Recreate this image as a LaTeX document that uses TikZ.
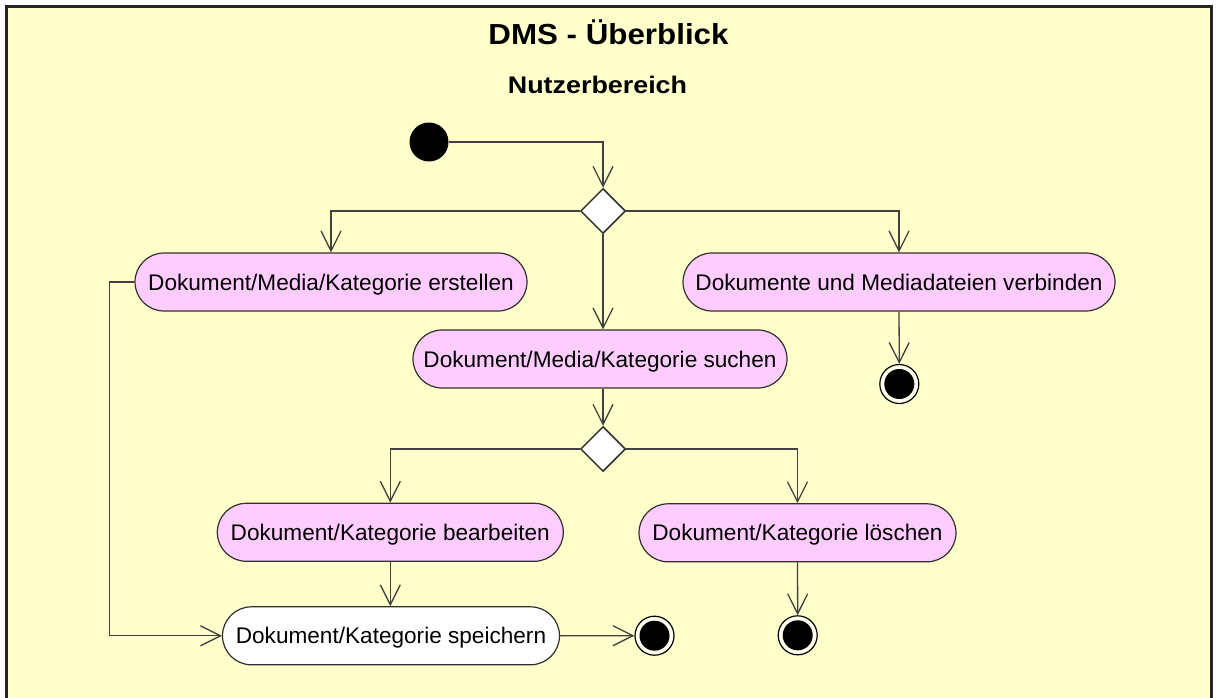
\documentclass[tikz,border=0pt]{standalone}
\usepackage{fontspec}
\setmainfont{Liberation Sans}
\newfontfamily\titlefont{Liberation Sans}[FakeStretch=1.08]
\newfontfamily\subtitlefont{Liberation Sans}[FakeStretch=1.12]
\usetikzlibrary{arrows.meta,shapes.geometric}
\definecolor{panel}{HTML}{FFFFCC}
\definecolor{actfill}{HTML}{FFCCFF}
\definecolor{wire}{HTML}{404040}
\definecolor{edge}{HTML}{303030}
\tikzset{
  activity/.style={rectangle, rounded corners=29pt, draw=edge, line width=1.2pt,
    fill=actfill, minimum height=58pt, inner xsep=0pt, inner ysep=0pt,
    text height=16pt, text depth=0pt,
    font=\fontsize{22.6}{27}\selectfont},
  decision/.style={diamond, draw=edge, line width=1.5pt, fill=white,
    minimum width=45pt, minimum height=45pt, inner sep=0pt},
  initial/.style={circle, fill=black, minimum size=39pt, inner sep=0pt},
  final/.style={circle, draw=black, line width=1.2pt, fill=white!60!panel,
    minimum size=39pt, inner sep=0pt,
    path picture={\fill[black] (path picture bounding box.center) circle (15pt);}},
  flow/.style={draw=wire, line width=1.3pt,
    -{Straight Barb[length=20pt,width=20pt,line width=1.3pt]}}
}
\begin{document}
\begin{tikzpicture}[x=1pt,y=-1pt]
  \useasboundingbox (0,0) rectangle (1218,698);
  \fill[white] (0,0) rectangle (1218,698);
  \clip (0,0) rectangle (1218,698);
  % diagram frame
  \draw[draw=black!85, line width=2.2pt, fill=panel] (6.5,6.5) rectangle (1211.5,740);

  % headings
  \node[anchor=base, inner sep=0pt] (title) at (608.5,45)
    {\titlefont\bfseries\fontsize{29}{34}\selectfont DMS - Überblick};
  \node[anchor=base, inner sep=0pt] (area) at (597.5,93.5)
    {\subtitlefont\bfseries\fontsize{24}{28}\selectfont Nutzerbereich};

  % states and decisions
  \node[initial] (start) at (429,142) {};
  \node[decision] (d1) at (603,211) {};
  \node[activity, minimum width=392pt] (create) at (331,282)
    {Dokument/Media/Kategorie erstellen};
  \node[activity, minimum width=432pt] (link) at (899,282)
    {Dokumente und Mediadateien verbinden};
  \node[final] (endlink) at (899.3,384) {};
  \node[activity, minimum width=374pt] (search) at (600,359)
    {Dokument/Media/Kategorie suchen};
  \node[decision] (d2) at (603,449) {};
  \node[activity, minimum width=346pt] (edit) at (390.3,532.3)
    {Dokument/Kategorie bearbeiten};
  \node[activity, minimum width=317pt] (delete) at (797.5,532.8)
    {Dokument/Kategorie löschen};
  \node[final] (enddelete) at (797.7,635.3) {};
  \node[activity, minimum width=337pt, fill=white] (save) at (391,635.8)
    {Dokument/Kategorie speichern};
  \node[final] (endsave) at (654.5,635.7) {};

  % control flow
  \draw[flow] (start.east) -| (d1.north);
  \draw[flow] (d1.west) -| (create.north);
  \draw[flow] (d1.east) -| (link.north);
  \draw[flow] (d1.south) -- (d1.south |- search.north);
  \draw[flow] (link.south) -- (endlink.north);
  \draw[flow] (d2.north |- search.south) -- (d2.north);
  \draw[flow] (d2.west) -| (edit.north);
  \draw[flow] (d2.east) -| (delete.north);
  \draw[flow] (delete.south) -- (enddelete.north);
  \draw[flow] (edit.south) -- (edit.south |- save.north);
  \draw[flow] (save.east) -- (endsave.west);
  \draw[flow] (create.west) -- ++(-25,0) |- (save.west);
\end{tikzpicture}
\end{document}
